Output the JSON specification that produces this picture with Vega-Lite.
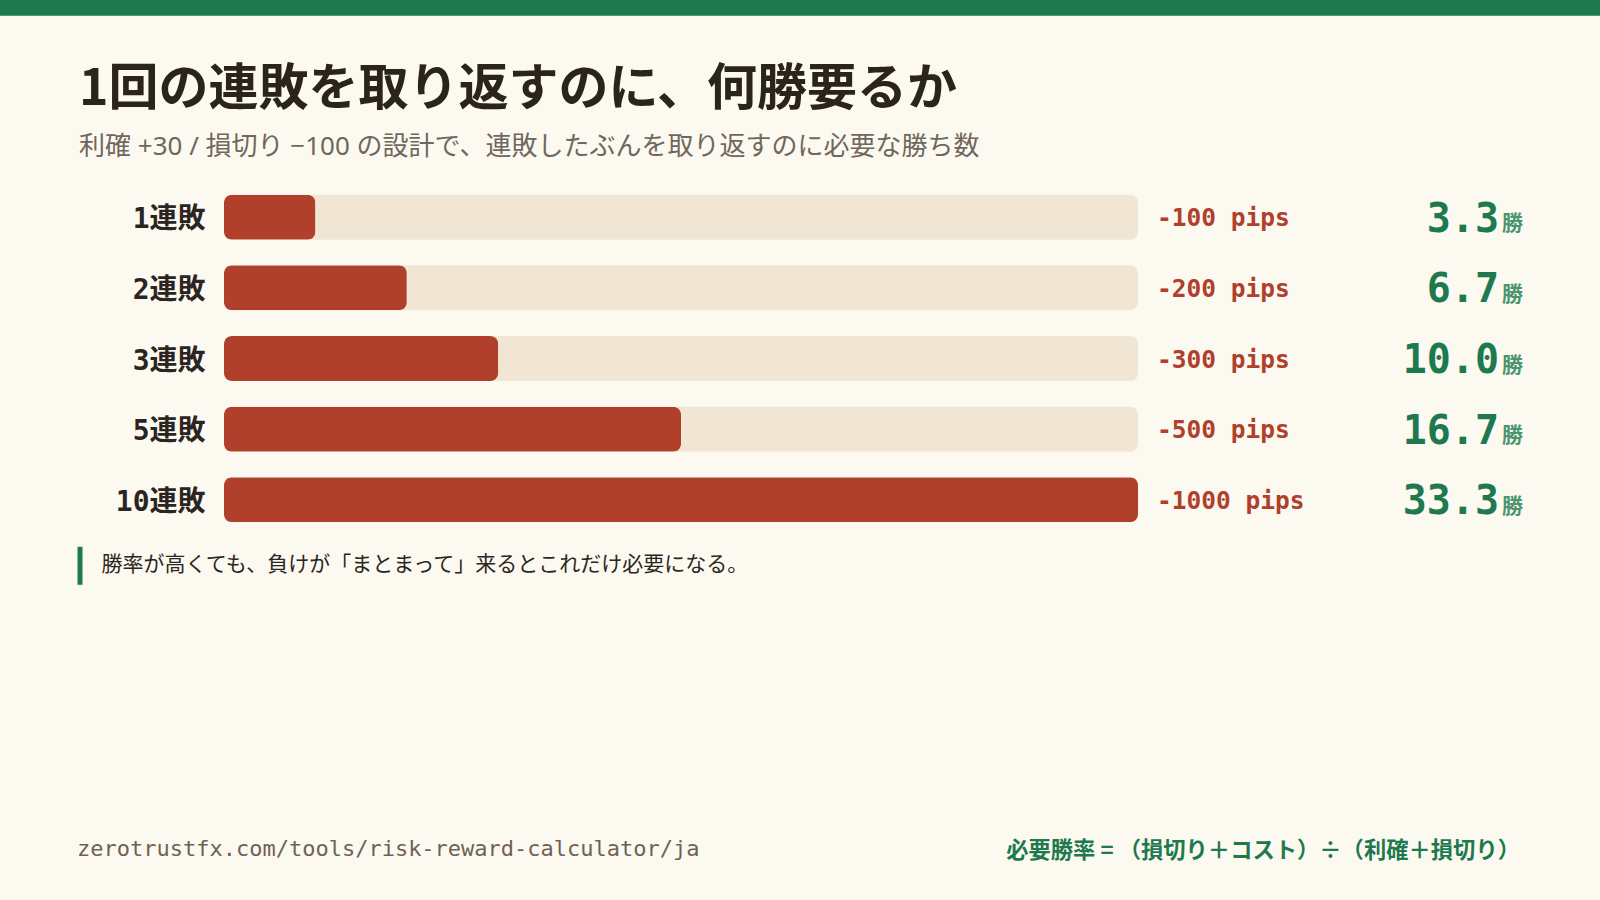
{
  "$schema": "https://vega.github.io/schema/vega-lite/v6.json",
  "width": 914,
  "height": 353,
  "autosize": {"type": "none"},
  "padding": {"left": 224, "top": 182, "right": 462, "bottom": 365},
  "background": "#fcf9f1",
  "config": {"view": {"stroke": null}},
  "title": {
    "text": "1回の連敗を取り返すのに、何勝要るか",
    "subtitle": "利確 +30 / 損切り −100 の設計で、連敗したぶんを取り返すのに必要な勝ち数",
    "anchor": "start",
    "frame": "group",
    "dx": -145,
    "offset": -160,
    "font": "Noto Sans CJK JP",
    "fontSize": 50,
    "fontWeight": "bold",
    "color": "#2a2419",
    "subtitleFont": "Noto Sans, Noto Sans CJK JP",
    "subtitleFontSize": 26,
    "subtitleColor": "#70675c",
    "subtitlePadding": 19
  },
  "datasets": {
    "streaks": [
      {"streak": "1連敗", "loss": 100, "lossLabel": "-100 pips", "wins": 3.3},
      {"streak": "2連敗", "loss": 200, "lossLabel": "-200 pips", "wins": 6.7},
      {"streak": "3連敗", "loss": 300, "lossLabel": "-300 pips", "wins": 10.0},
      {"streak": "5連敗", "loss": 500, "lossLabel": "-500 pips", "wins": 16.7},
      {"streak": "10連敗", "loss": 1000, "lossLabel": "-1000 pips", "wins": 33.3}
    ],
    "notes": [
      {
        "note": "勝率が高くても、負けが「まとまって」来るとこれだけ必要になる。",
        "source": "zerotrustfx.com/tools/risk-reward-calculator/ja",
        "formula": "必要勝率 = （損切り＋コスト）÷（利確＋損切り）"
      }
    ]
  },
  "layer": [
    {
      "data": {"name": "streaks"},
      "mark": {"type": "bar", "color": "#f1e6d3", "cornerRadius": 8},
      "encoding": {
        "y": {
          "field": "streak",
          "type": "nominal",
          "sort": null,
          "scale": {
            "domain": ["1連敗", "2連敗", "3連敗", "5連敗", "10連敗"],
            "paddingInner": 0.363,
            "paddingOuter": 0.18
          },
          "axis": {
            "title": null,
            "ticks": false,
            "domain": false,
            "labelPadding": 19,
            "labelOffset": 3,
            "labelFont": "DejaVu Sans Mono, Noto Sans CJK JP",
            "labelFontSize": 28,
            "labelFontWeight": "bold",
            "labelColor": "#2a2520"
          }
        },
        "x": {
          "datum": 0,
          "type": "quantitative",
          "scale": {"domain": [0, 1000], "nice": false, "zero": true},
          "axis": null
        },
        "x2": {"datum": 1000}
      }
    },
    {
      "data": {"name": "streaks"},
      "mark": {"type": "bar", "color": "#b03f2c", "cornerRadius": 8},
      "encoding": {
        "y": {"field": "streak", "type": "nominal"},
        "x": {"field": "loss", "type": "quantitative"}
      }
    },
    {
      "data": {"name": "streaks"},
      "mark": {
        "type": "text",
        "align": "left",
        "baseline": "middle",
        "dx": 19,
        "dy": 2,
        "font": "DejaVu Sans Mono",
        "fontSize": 24.5,
        "fontWeight": "bold",
        "color": "#b03f2c"
      },
      "encoding": {
        "y": {"field": "streak", "type": "nominal"},
        "x": {"datum": 1000, "type": "quantitative"},
        "text": {"field": "lossLabel"}
      }
    },
    {
      "data": {"name": "streaks"},
      "mark": {
        "type": "text",
        "align": "right",
        "baseline": "alphabetic",
        "dx": 361,
        "dy": 14.5,
        "font": "DejaVu Sans Mono",
        "fontSize": 40,
        "fontWeight": "bold",
        "color": "#1e7a4e"
      },
      "encoding": {
        "y": {"field": "streak", "type": "nominal"},
        "x": {"datum": 1000, "type": "quantitative"},
        "text": {"field": "wins", "type": "quantitative", "format": ".1f"}
      }
    },
    {
      "data": {"name": "streaks"},
      "mark": {
        "type": "text",
        "align": "left",
        "baseline": "alphabetic",
        "dx": 364,
        "dy": 13,
        "font": "Noto Sans CJK JP",
        "fontSize": 21,
        "fontWeight": "bold",
        "color": "#4a9470"
      },
      "encoding": {
        "y": {"field": "streak", "type": "nominal"},
        "x": {"datum": 1000, "type": "quantitative"},
        "text": {"value": "勝"}
      }
    },
    {
      "data": {"name": "notes"},
      "mark": {
        "type": "rule",
        "color": "#1e7a4e",
        "strokeWidth": 16,
        "xOffset": -224,
        "x2Offset": 462,
        "yOffset": -209.5,
        "y2Offset": -209.5
      },
      "encoding": {
        "x": {"datum": 0, "type": "quantitative"},
        "x2": {"datum": 1000},
        "y": {"datum": "1連敗", "type": "nominal"}
      }
    },
    {
      "data": {"name": "notes"},
      "mark": {
        "type": "rule",
        "color": "#1e7a4e",
        "strokeWidth": 5,
        "xOffset": -144,
        "yOffset": 47,
        "y2Offset": 85
      },
      "encoding": {
        "x": {"datum": 0, "type": "quantitative"},
        "y": {"datum": "10連敗", "type": "nominal"},
        "y2": {"datum": "10連敗"}
      }
    },
    {
      "data": {"name": "notes"},
      "mark": {
        "type": "text",
        "align": "left",
        "baseline": "middle",
        "dx": -122.5,
        "dy": 65,
        "font": "Noto Sans CJK JP",
        "fontSize": 21,
        "color": "#2b2620"
      },
      "encoding": {
        "x": {"datum": 0, "type": "quantitative"},
        "y": {"datum": "10連敗", "type": "nominal"},
        "text": {"field": "note"}
      }
    },
    {
      "data": {"name": "notes"},
      "mark": {
        "type": "text",
        "align": "left",
        "baseline": "middle",
        "dx": -147,
        "dy": 349,
        "font": "DejaVu Sans Mono",
        "fontSize": 22,
        "color": "#6e6253"
      },
      "encoding": {
        "x": {"datum": 0, "type": "quantitative"},
        "y": {"datum": "10連敗", "type": "nominal"},
        "text": {"field": "source"}
      }
    },
    {
      "data": {"name": "notes"},
      "mark": {
        "type": "text",
        "align": "right",
        "baseline": "middle",
        "dx": 382,
        "dy": 351,
        "font": "Noto Sans CJK JP",
        "fontSize": 22.3,
        "fontWeight": "bold",
        "color": "#1e7a4e"
      },
      "encoding": {
        "x": {"datum": 1000, "type": "quantitative"},
        "y": {"datum": "10連敗", "type": "nominal"},
        "text": {"field": "formula"}
      }
    }
  ]
}
